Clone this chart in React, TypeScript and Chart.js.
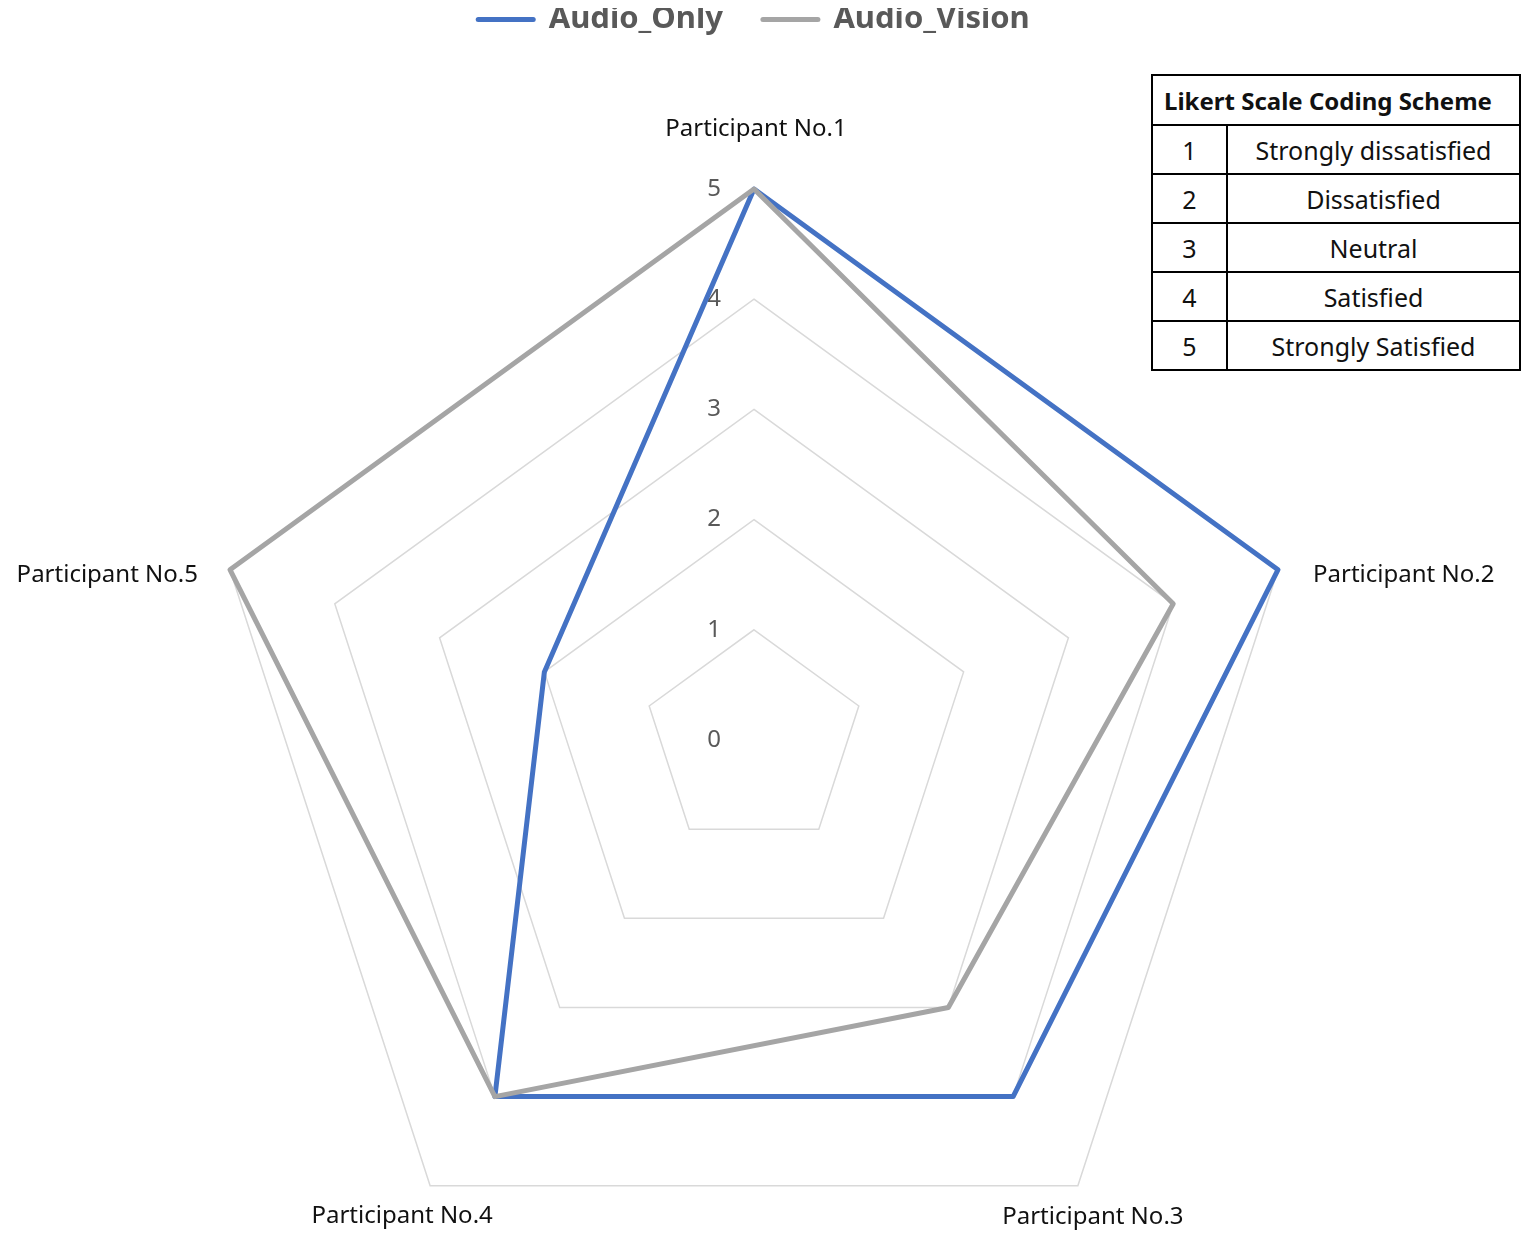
import React, { useEffect, useRef } from "react";
import { Chart, registerables } from "chart.js";

Chart.register(...registerables);

// ---- data ----
const categories = [
  "Participant No.1",
  "Participant No.2",
  "Participant No.3",
  "Participant No.4",
  "Participant No.5",
];
const audioOnly = [5, 5, 4, 4, 2];
const audioVision = [5, 4, 3, 4, 5];
const tickValues = [0, 1, 2, 3, 4, 5];
const seriesNames = ["Audio_Only", "Audio_Vision"];
const tableTitle = "Likert Scale Coding Scheme";
const likertCodes = [1, 2, 3, 4, 5];
const likertLabels = [
  "Strongly dissatisfied",
  "Dissatisfied",
  "Neutral",
  "Satisfied",
  "Strongly Satisfied",
];

const FONT = "'Noto Sans', 'DejaVu Sans', sans-serif";
const BLUE = "#4472C4";
const GRAY = "#A5A5A5";

const CANVAS_W = 1519;
const CANVAS_H = 1435; // taller than the visible frame; the frame clips it
const VISIBLE_H = 1240;

// label placement relative to each outer vertex
const labelPlacement: { align: CanvasTextAlign; dx: number; dy: number }[] = [
  { align: "center", dx: 2, dy: -60 },
  { align: "left", dx: 35, dy: 5 },
  { align: "center", dx: 15, dy: 31 },
  { align: "center", dx: -28, dy: 30 },
  { align: "right", dx: -32, dy: 5 },
];

const radarTextPlugin = {
  id: "radarText",
  beforeDatasetsDraw(chart: any) {
    const scale = chart.scales.r;
    const ctx = chart.ctx as CanvasRenderingContext2D;
    ctx.save();
    ctx.font = `24px ${FONT}`;
    ctx.fillStyle = "#595959";
    ctx.textAlign = "center";
    ctx.textBaseline = "middle";
    tickValues.forEach((v) => {
      const d = scale.getDistanceFromCenterForValue(v);
      ctx.fillText(String(v), scale.xCenter - 40, scale.yCenter - d);
    });
    ctx.restore();
  },
  afterDraw(chart: any) {
    const scale = chart.scales.r;
    const ctx = chart.ctx as CanvasRenderingContext2D;
    ctx.save();
    ctx.font = `24px ${FONT}`;
    ctx.fillStyle = "#111111";
    ctx.textBaseline = "middle";
    categories.forEach((label, i) => {
      const p = scale.getPointPosition(i, scale.drawingArea);
      const o = labelPlacement[i];
      ctx.textAlign = o.align;
      ctx.fillText(label, p.x + o.dx, p.y + o.dy);
    });
    ctx.restore();
  },
};

function LikertTable() {
  const cell: React.CSSProperties = {
    border: "2px solid #000",
    padding: 0,
    textAlign: "center",
    verticalAlign: "middle",
    height: 47,
    fontSize: 25,
    color: "#111",
  };
  return (
    <table
      style={{
        position: "absolute",
        left: 1143,
        top: 74,
        width: 370,
        borderCollapse: "collapse",
        fontFamily: FONT,
        background: "#fff",
      }}
    >
      <tbody>
        <tr>
          <td
            colSpan={2}
            style={{ ...cell, height: 48, fontWeight: "bold", fontSize: 24, textAlign: "left", paddingLeft: 11 }}
          >
            {tableTitle}
          </td>
        </tr>
        {likertCodes.map((c, i) => (
          <tr key={c}>
            <td style={{ ...cell, width: 73 }}>{c}</td>
            <td style={cell}>{likertLabels[i]}</td>
          </tr>
        ))}
      </tbody>
    </table>
  );
}

export default function App() {
  const canvasRef = useRef<HTMLCanvasElement | null>(null);

  useEffect(() => {
    if (!canvasRef.current) return;
    Chart.defaults.font.family = FONT;
    const chart = new Chart(canvasRef.current, {
      type: "radar",
      data: {
        labels: categories,
        datasets: [
          {
            label: seriesNames[0],
            data: audioOnly,
            borderColor: BLUE,
            backgroundColor: BLUE,
            borderWidth: 5,
            fill: false,
            pointRadius: 0,
            pointHoverRadius: 0,
            borderJoinStyle: "round",
            order: 1,
          },
          {
            label: seriesNames[1],
            data: audioVision,
            borderColor: GRAY,
            backgroundColor: GRAY,
            borderWidth: 5,
            fill: false,
            pointRadius: 0,
            pointHoverRadius: 0,
            borderJoinStyle: "round",
            order: 0,
          },
        ],
      },
      options: {
        responsive: false,
        maintainAspectRatio: false,
        animation: false,
        events: [],
        layout: { padding: { left: 195, right: 222, top: -36, bottom: 0 } },
        scales: {
          r: {
            min: 0,
            max: 5,
            ticks: { display: false, stepSize: 1 },
            grid: { color: "#D9D9D9", lineWidth: 1.5 },
            angleLines: { display: false },
            pointLabels: { display: false },
          },
        },
        plugins: {
          tooltip: { enabled: false },
          legend: {
            position: "top",
            labels: {
              usePointStyle: true,
              pointStyle: "line",
              pointStyleWidth: 55,
              padding: 40,
              color: "#595959",
              font: { size: 31, weight: "bold", family: FONT },
              sort: (a: any, b: any) => a.datasetIndex - b.datasetIndex,
              generateLabels: (ch: any) =>
                (Chart.defaults.plugins.legend.labels.generateLabels as any)(ch).map((l: any) => ({
                  ...l,
                  lineCap: "round",
                  lineWidth: 5,
                  strokeStyle: ch.data.datasets[l.datasetIndex].borderColor,
                })),
            },
          },
        },
      },
      plugins: [radarTextPlugin],
    } as any);
    return () => chart.destroy();
  }, []);

  return (
    <div
      style={{
        position: "relative",
        marginTop: -8,
        width: CANVAS_W,
        height: VISIBLE_H,
        overflow: "hidden",
      }}
    >
      <canvas
        ref={canvasRef}
        width={CANVAS_W}
        height={CANVAS_H}
        style={{ display: "block", width: CANVAS_W, height: CANVAS_H }}
      />
      <LikertTable />
    </div>
  );
}
